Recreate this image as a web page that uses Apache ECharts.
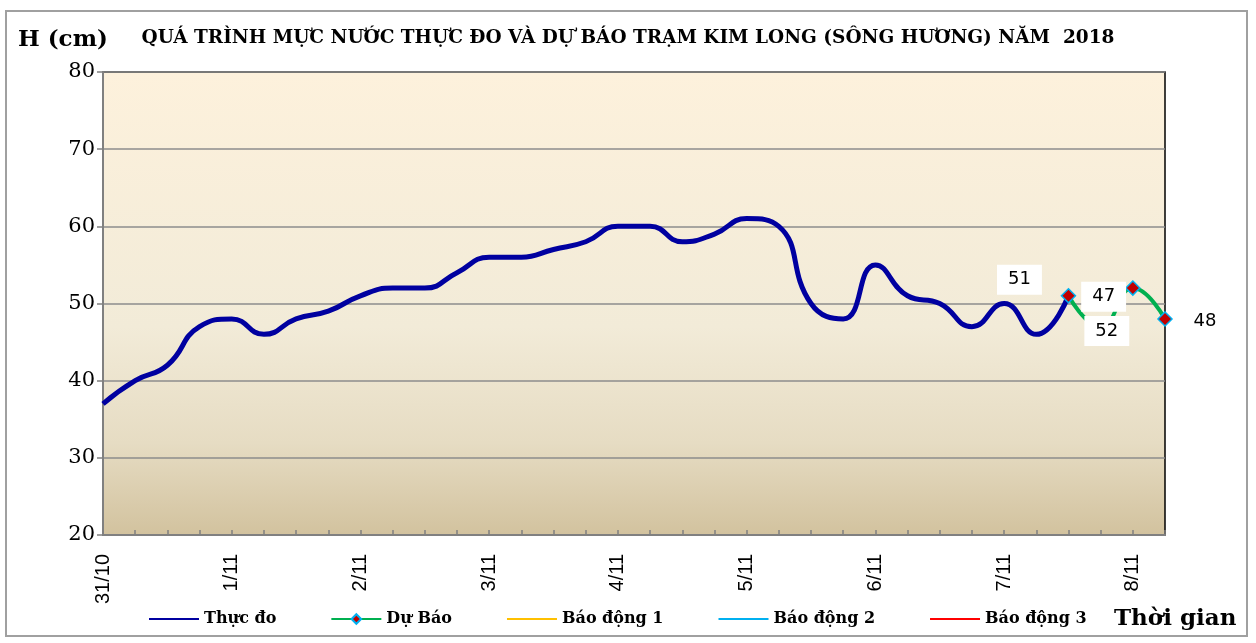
<!DOCTYPE html>
<html>
<head>
<meta charset="utf-8">
<script src="https://cdn.jsdelivr.net/npm/echarts@6/dist/echarts.min.js"></script>
<style>
html,body{margin:0;padding:0;background:#fff;}
#chart{width:1256px;height:643px;}
</style>
</head>
<body>
<div id="chart"></div>
<script>
// ---- data ----
const dayLabels = ['31/10','1/11','2/11','3/11','4/11','5/11','6/11','7/11','8/11'];
const hourLabels = ['7h','13h','19h','1h'];
const observed = [37,40,42,47,48,46,48,49,51,52,52,54,56,56,57,58,60,60,58,59,61,60,50,48,55,51,50,47,50,46,51];
const forecast = [51,47,52,48];
const forecastStart = 30;
const seriesNames = ['Thực đo','Dự Báo','Báo động 1','Báo động 2','Báo động 3'];
const alarm1 = [];
const alarm2 = [];
const alarm3 = [];
const yTicks = {min:20, max:80, interval:10};

// ---- build ----
const categories = [];
dayLabels.forEach(d => hourLabels.forEach(h => categories.push(d + ' ' + h)));
categories.length = 34;

const forecastData = categories.map(() => null);
forecast.forEach((v, i) => { forecastData[forecastStart + i] = v; });

const labelOffsets = [[-49,-16],[3,-30],[-26,43],[40,2]];
const forecastSeriesData = forecastData.map((v, i) => {
  if (v === null) return null;
  const k = i - forecastStart;
  return {
    value: v,
    label: {
      show: true, position: 'inside', offset: labelOffsets[k],
      formatter: String(v),
      fontFamily: 'DejaVu Sans', fontSize: 18, color: '#000',
      backgroundColor: '#fff', padding: [6, 11]
    }
  };
});

const legendData = seriesNames.map((n, i) => i === 1
  ? {name: n}
  : {name: n, itemStyle: {opacity: 0}});

const chart = echarts.init(document.getElementById('chart'), null, {renderer: 'canvas'});
chart.setOption({
  animation: false,
  backgroundColor: '#fff',
  title: {
    text: 'QUÁ TRÌNH MỰC NƯỚC THỰC ĐO VÀ DỰ BÁO TRẠM KIM LONG (SÔNG HƯƠNG) NĂM  2018',
    left: 'center', top: 24,
    textStyle: {fontFamily: 'DejaVu Serif', fontWeight: 'bold', fontSize: 18.5, color: '#000'}
  },
  graphic: [
    {type: 'rect', shape: {x: 6, y: 11, width: 1241, height: 625}, style: {fill: 'none', stroke: '#A0A0A0', lineWidth: 2}, silent: true},
    {type: 'text', x: 18, y: 40, style: {text: 'H (cm)', font: 'bold 23px "DejaVu Serif"', fill: '#000', verticalAlign: 'middle'}},
    {type: 'text', x: 1114, y: 619, style: {text: 'Thời gian', font: 'bold 23px "DejaVu Serif"', fill: '#000', verticalAlign: 'middle'}}
  ],
  legend: {
    left: 148, top: 611, padding: 0, itemGap: 54, itemWidth: 50, itemHeight: 12,
    data: legendData,
    lineStyle: {width: 2},
    textStyle: {fontFamily: 'DejaVu Serif', fontWeight: 'bold', fontSize: 16, color: '#000'}
  },
  grid: {
    left: 103, right: 91, top: 72, bottom: 108,
    show: true, borderColor: '#000', borderWidth: 1.5,
    backgroundColor: {
      type: 'linear', x: 0, y: 0, x2: 0, y2: 1,
      colorStops: [
        {offset: 0, color: '#FDF1DC'},
        {offset: 0.55, color: '#F2EBD8'},
        {offset: 0.8, color: '#E6DCC3'},
        {offset: 1, color: '#D2C29E'}
      ]
    }
  },
  xAxis: {
    type: 'category', data: categories, boundaryGap: false,
    axisLine: {show: true, lineStyle: {color: '#808080', width: 2}},
    axisTick: {show: true, inside: true, length: 5, interval: 0, lineStyle: {color: '#808080', width: 1.5}},
    axisLabel: {
      interval: 3, rotate: 90, margin: 19,
      formatter: v => v.split(' ')[0],
      fontFamily: 'Liberation Sans', fontSize: 20, color: '#000'
    },
    splitLine: {show: false}
  },
  yAxis: {
    type: 'value', min: yTicks.min, max: yTicks.max, interval: yTicks.interval,
    axisLine: {show: true, lineStyle: {color: '#808080', width: 2}},
    axisTick: {show: true, length: 6, lineStyle: {color: '#808080', width: 1.5}},
    axisLabel: {margin: 8, fontFamily: 'DejaVu Serif', fontSize: 21, color: '#000'},
    splitLine: {show: true, lineStyle: {color: '#8C8C8C', width: 1.5}}
  },
  series: [
    {
      name: seriesNames[0], type: 'line', data: observed, smooth: 0.5,
      symbol: 'none', lineStyle: {color: '#0000A0', width: 5}, itemStyle: {color: '#0000A0'}, z: 3
    },
    {
      name: seriesNames[1], type: 'line', data: forecastSeriesData, smooth: 0.5,
      symbol: 'diamond', symbolSize: 14, showAllSymbol: true, connectNulls: false,
      lineStyle: {color: '#00B050', width: 4},
      itemStyle: {color: '#C00000', borderColor: '#00B0F0', borderWidth: 1.5},
      z: 4
    },
    {name: seriesNames[2], type: 'line', data: alarm1, symbol: 'none', lineStyle: {color: '#FFC000', width: 2}, itemStyle: {color: '#FFC000'}},
    {name: seriesNames[3], type: 'line', data: alarm2, symbol: 'none', lineStyle: {color: '#00B0F0', width: 2}, itemStyle: {color: '#00B0F0'}},
    {name: seriesNames[4], type: 'line', data: alarm3, symbol: 'none', lineStyle: {color: '#FF0000', width: 2}, itemStyle: {color: '#FF0000'}}
  ]
});
</script>
</body>
</html>
